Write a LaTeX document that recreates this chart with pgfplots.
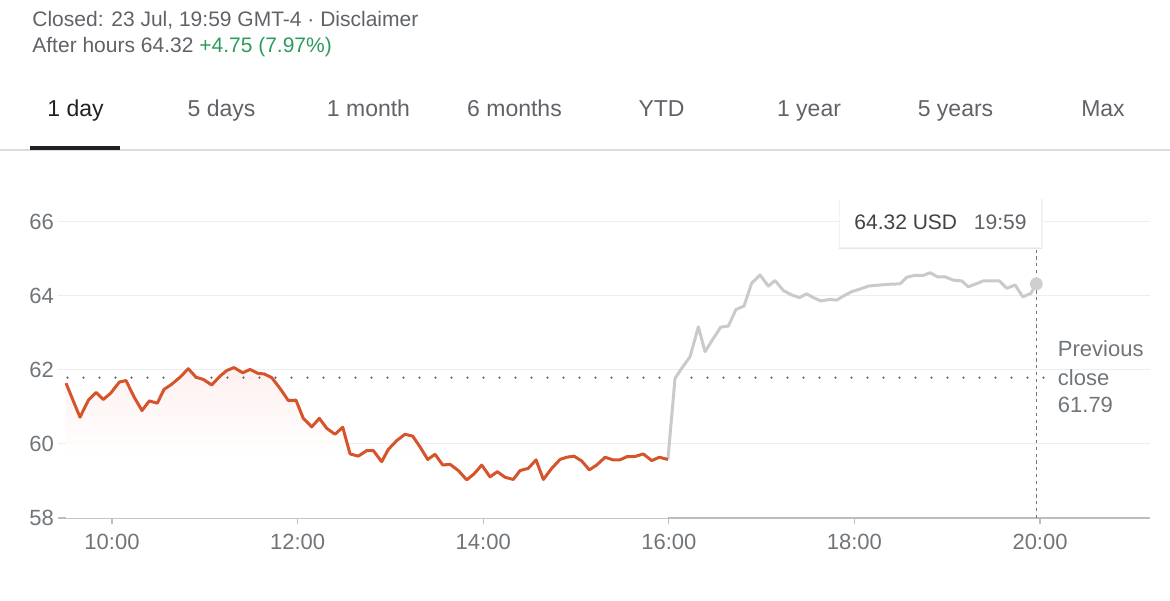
\documentclass[border=0pt]{standalone}
\usepackage{pgfplots}
\pgfplotsset{compat=1.18}
\usepackage{fontspec}
\setmainfont{Liberation Sans}
\definecolor{txtgray}{HTML}{70757A}
\definecolor{tabgray}{HTML}{5F6368}
\definecolor{dark}{HTML}{202124}
\definecolor{gup}{HTML}{2E9A5C}
\definecolor{redline}{HTML}{D5542C}
\definecolor{ahgray}{HTML}{CACACA}
\definecolor{gridc}{HTML}{EEEEEE}
\definecolor{axisc}{HTML}{BDBDBD}
\definecolor{sepc}{HTML}{DADCE0}
\definecolor{pinkA}{HTML}{FCE3E1}
\definecolor{pinkB}{HTML}{FEF3F2}
\pgfdeclareverticalshading{pinkfade}{100bp}{color(0bp)=(white); color(45bp)=(white); color(70bp)=(pinkB); color(100bp)=(pinkA)}

\pgfplotstableread{
t v
9.504 61.64
9.655 60.72
9.745 61.18
9.828 61.39
9.906 61.20
9.986 61.37
10.079 61.67
10.151 61.71
10.237 61.27
10.323 60.90
10.402 61.16
10.488 61.10
10.560 61.47
10.643 61.61
10.733 61.80
10.822 62.03
10.905 61.80
10.984 61.74
11.074 61.59
11.164 61.83
11.236 61.98
11.315 62.06
11.408 61.92
11.487 62.01
11.576 61.90
11.638 61.89
11.721 61.79
11.810 61.50
11.900 61.17
11.983 61.18
12.061 60.69
12.152 60.46
12.234 60.69
12.314 60.42
12.403 60.26
12.486 60.45
12.565 59.73
12.654 59.67
12.745 59.82
12.816 59.82
12.906 59.52
12.977 59.85
13.068 60.09
13.157 60.26
13.240 60.21
13.319 59.92
13.402 59.58
13.481 59.72
13.564 59.43
13.642 59.45
13.732 59.28
13.822 59.03
13.901 59.19
13.984 59.43
14.073 59.11
14.152 59.25
14.235 59.10
14.324 59.04
14.397 59.28
14.486 59.34
14.569 59.57
14.648 59.04
14.738 59.34
14.828 59.58
14.900 59.64
14.978 59.67
15.061 59.54
15.143 59.30
15.223 59.43
15.313 59.64
15.396 59.57
15.474 59.57
15.553 59.66
15.636 59.66
15.725 59.73
15.816 59.55
15.898 59.64
15.990 59.58
}\regular

\pgfplotstableread{
t v
15.990 59.58
16.067 61.77
16.139 62.04
16.228 62.35
16.318 63.16
16.390 62.49
16.480 62.85
16.559 63.15
16.641 63.18
16.724 63.63
16.810 63.72
16.893 64.34
16.983 64.56
17.072 64.26
17.144 64.41
17.234 64.14
17.324 64.02
17.406 63.95
17.486 64.05
17.557 63.95
17.637 63.86
17.737 63.90
17.809 63.88
17.880 63.99
17.971 64.11
18.060 64.18
18.150 64.26
18.276 64.29
18.384 64.31
18.491 64.32
18.564 64.50
18.653 64.55
18.743 64.55
18.815 64.62
18.894 64.51
18.976 64.51
19.066 64.42
19.156 64.40
19.228 64.24
19.300 64.31
19.389 64.40
19.480 64.40
19.561 64.40
19.641 64.20
19.731 64.29
19.814 63.97
19.900 64.06
19.960 64.32
}\afterhours

\begin{document}
\begin{tikzpicture}
\path[use as bounding box] (0,0) rectangle (585pt,300pt);
\begin{axis}[
  at={(29pt,41pt)}, anchor=south west,
  scale only axis, width=546pt, height=166.725pt,
  xmin=9.418, xmax=21.185, ymin=58, ymax=67,
  axis x line*=bottom, axis y line*=left,
  x axis line style={draw=axisc, line width=0.6pt, -},
  y axis line style={draw=none},
  xtick={10,12,14,16,18,20},
  xticklabels={10:00,12:00,14:00,16:00,18:00,20:00},
  ytick={58,60,62,64,66},
  ymajorgrids, grid style={draw=gridc, line width=0.5pt},
  tick align=outside, major tick length=3pt,
  xtick style={draw=axisc, line width=0.6pt},
  ytick style={draw=none},
  tick label style={font=\fontsize{11}{13}\selectfont, text=txtgray},
  xticklabel style={yshift=-1.5pt},
  yticklabel style={xshift=4.5pt},
  /pgf/number format/assume math mode=true,
  clip=false,
]
\addplot[draw=none, shading=pinkfade]
  table[x=t, y=v] {\regular} \closedcycle;
\addplot[dash pattern=on 0pt off 8pt, line cap=round, line width=1.2pt, color=tabgray]
  coordinates {(9.52,61.79) (20.12,61.79)};
\addplot[dash pattern=on 1.6pt off 1.8pt, line width=0.6pt, color=txtgray]
  coordinates {(19.96,58) (19.96,65.31)};
\addplot[ahgray, line width=1.5pt, line join=round] table[x=t, y=v] {\afterhours};
\addplot[redline, line width=1.5pt, line join=round] table[x=t, y=v] {\regular};
\addplot[only marks, mark=*, mark size=3pt, color=ahgray!90!white] coordinates {(19.96,64.32)};
\end{axis}

\begin{scope}[x=0.5pt, y=-0.5pt, yshift=300pt]
  % header
  \node[anchor=base west, inner sep=0, font=\fontsize{10.5}{12}\selectfont, text=tabgray]
    at (32,26.5) {Closed: 23 Jul, 19:59 GMT-4 · Disclaimer};
  \node[anchor=base west, inner sep=0, font=\fontsize{10.5}{12}\selectfont, text=tabgray]
    at (32,52.5) {After hours 64.32 \textcolor{gup}{+4.75 (7.97\%)}};
  % tabs
  \foreach \xx/\lab in {221.5/5 days, 368.5/1 month, 514.5/6 months, 661.5/YTD, 809/1 year, 955.5/5 years, 1103/Max}
    \node[anchor=base, inner sep=0, font=\fontsize{11.5}{13}\selectfont, text=tabgray] at (\xx,116.5) {\lab};
  \node[anchor=base, inner sep=0, font=\fontsize{11.5}{13}\selectfont, text=dark] at (75.5,116.5) {1 day};
  \fill[sepc] (0,149.5) rectangle (1170,151);
  \fill[dark] (30,146) rectangle (120,150.5);
  % tooltip
  \fill[black!10] (839,200) rectangle (1042,249.5);
  \fill[black!5] (838.5,199) rectangle (1042.5,248.5);
  \fill[white] (840,198) rectangle (1041,247);
  \node[anchor=base west, inner sep=0, font=\fontsize{10.5}{12}\selectfont, text=dark!85]
    at (854,229.3) {64.32 USD};
  \node[anchor=base west, inner sep=0, font=\fontsize{10.5}{12}\selectfont, text=tabgray]
    at (973.5,229.3) {19:59};
  % previous close
  \node[anchor=base west, inner sep=0, font=\fontsize{11}{13}\selectfont, text=txtgray] at (1057.5,356.7) {Previous};
  \node[anchor=base west, inner sep=0, font=\fontsize{11}{13}\selectfont, text=txtgray] at (1057.5,385) {close};
  \node[anchor=base west, inner sep=0, font=\fontsize{11}{13}\selectfont, text=txtgray] at (1057.5,412.7) {61.79};
\end{scope}
\end{tikzpicture}
\end{document}
